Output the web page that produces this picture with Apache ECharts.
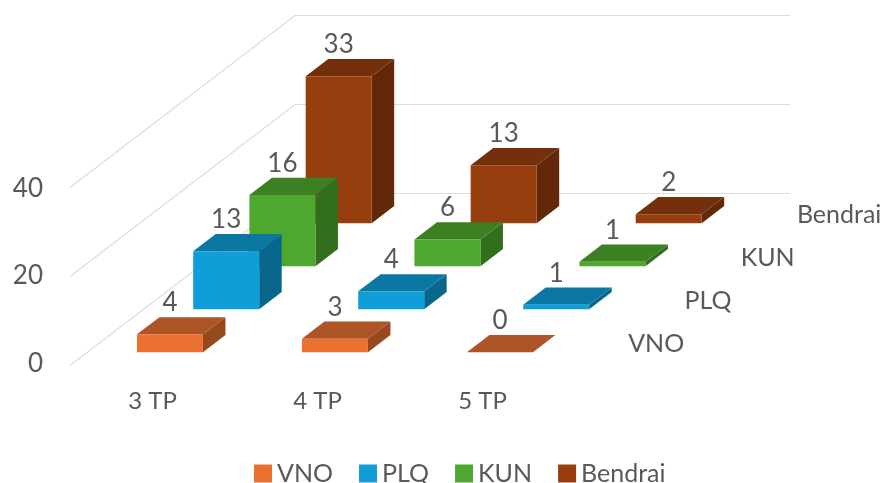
<!DOCTYPE html>
<html>
<head>
<meta charset="utf-8">
<style>
  html, body { margin: 0; background: #fff; }
  #chart { width: 896px; height: 483px; }
</style>
<script src="https://cdn.jsdelivr.net/npm/echarts@6/dist/echarts.min.js"></script>
</head>
<body>
<div id="chart"></div>
<script>
const categories = ['3 TP', '4 TP', '5 TP'];
const seriesNames = ['VNO', 'PLQ', 'KUN', 'Bendrai'];
const vno = [4, 3, 0];
const plq = [13, 4, 1];
const kun = [16, 6, 1];
const bendrai = [33, 13, 2];
const yTicks = [0, 20, 40];

const seriesValues = [vno, plq, kun, bendrai];
// front, top, side
const colors = [
  ['#EB7131', '#AD5526', '#96491F'],
  ['#0F9ED8', '#0B78A4', '#09678D'],
  ['#4EA72E', '#3C8023', '#336D1E'],
  ['#973E0E', '#74300B', '#622809']
];

const textColor = '#595959';
const fontFamily = 'Lato';
// floor depth of one series slot, in px
const slotDx = 56.25;
const slotDy = -43;
const barFront = 0.31;
const barDepth = 0.4;
const labelGap = 31.5;
const rowLabelGap = 35;

// shift a chart point back along the floor
function back(p, depth) {
  return [p[0] + slotDx * depth, p[1] + slotDy * depth];
}

function renderBar(slot, params, api) {
  const cat = api.value(0);
  const value = api.value(1);
  const halfBand = api.size([1, 0])[0] / 2;
  const barHalf = halfBand * 0.4;
  const center = api.coord([cat, 0]);
  const centerTop = api.coord([cat, value]);
  const d = slot + barFront;
  const a = back([center[0] - barHalf, center[1]], d);
  const b = back([center[0] + barHalf, center[1]], d);
  const c = back([center[0] + barHalf, centerTop[1]], d);
  const e = back([center[0] - barHalf, centerTop[1]], d);
  const f = back(c, barDepth);
  const g = back(e, barDepth);
  const h = back(b, barDepth);
  const col = colors[slot];
  return {
    type: 'group',
    children: [
      { type: 'polygon', shape: { points: [b, h, f, c] }, style: { fill: col[2] } },
      { type: 'polygon', shape: { points: [e, c, f, g] }, style: { fill: col[1] } },
      { type: 'polygon', shape: { points: [a, b, c, e] }, style: { fill: col[0] } },
      {
        type: 'text',
        style: {
          text: String(value),
          x: (e[0] + c[0]) / 2,
          y: e[1] - labelGap,
          fill: textColor,
          font: '26px ' + fontFamily,
          align: 'center',
          verticalAlign: 'middle'
        }
      }
    ]
  };
}

// wall lines: front edge, up the side wall, along the back wall
function renderWall(params, api) {
  const size = api.size([1, 0])[0];
  const p = api.coord([0, api.value(0)]);
  const start = [p[0] - size / 2, p[1]];
  const corner = back(start, seriesNames.length);
  return {
    type: 'polyline',
    shape: { points: [start, corner, [corner[0] + size * categories.length, corner[1]]] },
    style: { stroke: '#DCDCDC', lineWidth: 1.2, fill: null }
  };
}

function renderRowLabel(params, api) {
  const slot = params.dataIndex;
  const size = api.size([1, 0])[0];
  const p = api.coord([categories.length - 1, 0]);
  const q = back([p[0] + size / 2, p[1]], slot + 0.5);
  return {
    type: 'text',
    style: {
      text: seriesNames[slot],
      x: q[0] + rowLabelGap,
      y: q[1],
      fill: textColor,
      font: '25px ' + fontFamily,
      align: 'left',
      verticalAlign: 'middle'
    }
  };
}

const barSeries = seriesNames.map((name, slot) => ({
  name: name,
  type: 'custom',
  xAxisIndex: 0,
  yAxisIndex: 0,
  z: 10 - slot,
  itemStyle: { color: colors[slot][0] },
  renderItem: (params, api) => renderBar(slot, params, api),
  encode: { x: 0, y: 1 },
  data: seriesValues[slot].map((v, i) => [i, v])
}));

const chart = echarts.init(document.getElementById('chart'));
chart.setOption({
  animation: false,
  textStyle: { fontFamily: fontFamily },
  // first grid holds the marks, second only places the value labels
  grid: [
    { left: 70, top: 187.5, width: 495, height: 178 },
    { left: 70, top: 188.5, width: 495, height: 175 }
  ],
  legend: {
    data: seriesNames,
    left: 249,
    top: 456,
    icon: 'rect',
    itemWidth: 18,
    itemHeight: 18,
    itemGap: 26,
    textStyle: { color: textColor, fontSize: 25, lineHeight: 22, fontFamily: fontFamily }
  },
  xAxis: [
    {
      type: 'category',
      data: categories,
      gridIndex: 0,
      axisLine: { show: false },
      axisTick: { show: false },
      axisLabel: { color: textColor, fontSize: 24, margin: 24 }
    },
    { type: 'category', data: categories, gridIndex: 1, show: false }
  ],
  yAxis: [
    { type: 'value', min: 0, max: 40, interval: 20, gridIndex: 0, show: false },
    {
      type: 'value',
      min: 0,
      max: 40,
      interval: 20,
      gridIndex: 1,
      axisLine: { show: false },
      axisTick: { show: false },
      splitLine: { show: false },
      axisLabel: { color: textColor, fontSize: 26, margin: 27 }
    }
  ],
  series: [
    {
      type: 'custom',
      name: 'walls',
      z: 1,
      renderItem: renderWall,
      encode: { y: 0 },
      data: yTicks.map(t => [t])
    },
    {
      type: 'custom',
      name: 'rows',
      z: 1,
      renderItem: renderRowLabel,
      data: seriesNames.map((n, i) => [i])
    }
  ].concat(barSeries)
});
</script>
</body>
</html>
